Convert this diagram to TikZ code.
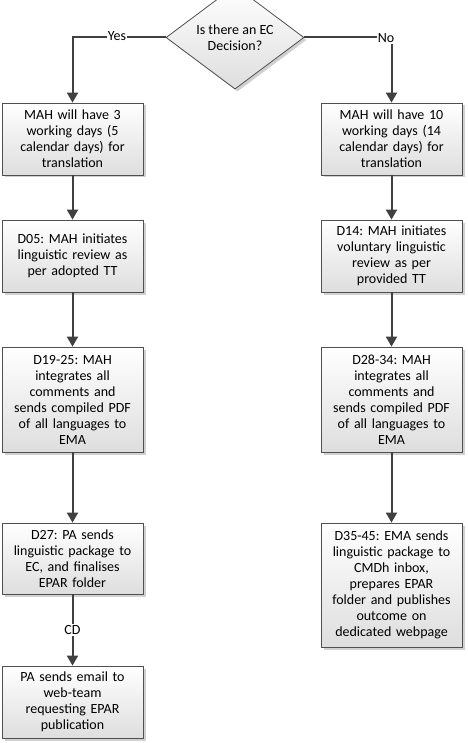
\documentclass[tikz,border=0pt]{standalone}
\usepackage{fontspec}
\setmainfont{Carlito}
\usetikzlibrary{shapes.geometric,arrows.meta,shadows}
\definecolor{lin}{HTML}{404040}
\definecolor{bord}{HTML}{505050}
\begin{document}
\frenchspacing
\begin{tikzpicture}[x=1pt,y=-1pt,
  font=\fontsize{14}{16}\selectfont,
  procbox/.style={draw=bord, line width=0.8pt, top color=white, bottom color=black!13,
    minimum width=139pt, inner sep=2pt, align=center, text width=137pt,
    drop shadow={shadow xshift=2.5pt, shadow yshift=-2.5pt, fill=black!30, opacity=0.6}},
  decis/.style={draw=bord, line width=0.8pt, diamond, top color=white, bottom color=black!13,
    minimum width=138pt, minimum height=71pt, inner sep=0pt, align=center,
    drop shadow={shadow xshift=2.5pt, shadow yshift=-2.5pt, fill=black!30, opacity=0.6}},
  conn/.style={draw=lin, line width=2pt, -{Triangle[length=10pt,width=11pt]}},
  lbl/.style={fill=white, inner sep=1pt, font=\fontsize{14}{15}\selectfont}
]
\useasboundingbox (0,0) rectangle (467,743);

\node[decis] (dec) at (235,37.5) {Is there an EC\\Decision?};

\node[procbox, minimum height=72pt] (l1) at (72.5,139) {MAH will have 3\\working days (5\\calendar days) for\\translation};
\node[procbox, minimum height=72pt] (l2) at (72.5,256) {D05: MAH initiates\\linguistic review as\\per adopted TT};
\node[procbox, minimum height=105pt] (l3) at (72.5,399.5) {D19-25: MAH\\integrates all\\comments and\\sends compiled PDF\\of all languages to\\EMA};
\node[procbox, minimum height=71pt] (l4) at (72.5,558.5) {D27: PA sends\\linguistic package to\\EC, and finalises\\EPAR folder};
\node[procbox, minimum height=72pt] (l5) at (72.5,702) {PA sends email to\\web-team\\requesting EPAR\\publication};

\node[procbox, minimum height=72pt] (r1) at (391.5,139) {MAH will have 10\\working days (14\\calendar days) for\\translation};
\node[procbox, minimum height=72pt] (r2) at (391.5,256) {D14: MAH initiates\\voluntary linguistic\\review as per\\provided TT};
\node[procbox, minimum height=105pt] (r3) at (391.5,399.5) {D28-34: MAH\\integrates all\\comments and\\sends compiled PDF\\of all languages to\\EMA};
\node[procbox, minimum height=124pt] (r4) at (391.5,585) {D35-45: EMA sends\\linguistic package to\\CMDh inbox,\\prepares EPAR\\folder and publishes\\outcome on\\dedicated webpage};

\coordinate (cl) at (72.5,37.5);
\coordinate (cr) at (391.5,37.5);

\draw[conn] (dec.west) -- (cl) -- (l1.north);
\draw[conn] (dec.east) -- (cr) -- (r1.north);

\draw[conn] (l1) -- (l2);
\draw[conn] (l2) -- (l3);
\draw[conn] (l3) -- (l4);
\draw[conn] (l4) -- (l5);

\draw[conn] (r1) -- (r2);
\draw[conn] (r2) -- (r3);
\draw[conn] (r3) -- (r4);

\node[lbl] (yes) at (117,36) {Yes};
\node[lbl] (no) at (386,38) {No};
\node[lbl] (cd) at (72.5,630) {CD};
\end{tikzpicture}
\end{document}
